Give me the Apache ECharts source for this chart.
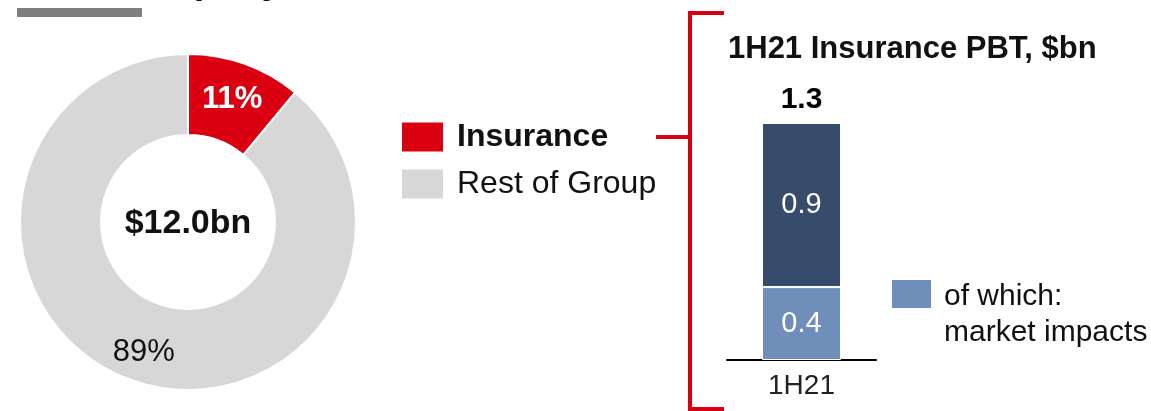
<!DOCTYPE html>
<html>
<head>
<meta charset="utf-8">
<script src="https://cdn.jsdelivr.net/npm/echarts@6/dist/echarts.min.js"></script>
<style>
  html, body { margin: 0; padding: 0; background: #fff; }
  #chart { width: 1151px; height: 411px; }
</style>
</head>
<body>
<div id="chart"></div>
<script>
// Share of Group profit before tax
const shareNames = ['Insurance', 'Rest of Group'];
const shareValues = [11, 89];          // %
const groupTotal = 12.0;               // $bn

// 1H21 Insurance PBT breakdown, $bn
const periods = ['1H21'];
const marketImpacts = [0.4];
const otherProfit = [0.9];
const marketName = 'of which: market impacts';
const otherName = 'Other';

const FONT = '"Liberation Sans", Arial, Helvetica, sans-serif';
const RED = '#db0011';
const LIGHT_GREY = '#d7d7d7';
const NAVY = '#374b6b';
const STEEL = '#6f8fba';

const totals = periods.map((_, i) => +(marketImpacts[i] + otherProfit[i]).toFixed(1));

const chart = echarts.init(document.getElementById('chart'), null, { renderer: 'canvas' });

chart.setOption({
  animation: false,
  backgroundColor: '#fff',
  textStyle: { fontFamily: FONT },
  legend: [
    {
      data: shareNames,
      orient: 'vertical',
      left: 402,
      top: 121,
      padding: 0,
      icon: 'rect',
      itemWidth: 41,
      itemHeight: 29,
      itemGap: 15,
      selectedMode: false,
      itemStyle: { borderWidth: 0 },
      formatter: n => (n === shareNames[0] ? `{b|${n}}` : `{r|${n}}`),
      textStyle: {
        fontFamily: FONT,
        fontSize: 32,
        color: '#111',
        padding: [0, 0, 0, 9],
        rich: {
          b: { fontFamily: FONT, fontSize: 32, fontWeight: 'bold', color: '#111', lineHeight: 29 },
          r: { fontFamily: FONT, fontSize: 32, color: '#111', lineHeight: 29 }
        }
      }
    },
    {
      data: [marketName],
      left: 892,
      top: 243,
      padding: 0,
      icon: 'rect',
      itemWidth: 39,
      itemHeight: 28,
      selectedMode: false,
      itemStyle: { borderWidth: 0 },
      formatter: () => '{s| }\n{t|of which:}\n{t|market impacts}',
      textStyle: {
        fontFamily: FONT,
        fontSize: 30,
        color: '#111',
        padding: [0, 0, 0, 8],
        rich: {
          s: { fontFamily: FONT, fontSize: 30, lineHeight: 42 },
          t: { fontFamily: FONT, fontSize: 30, lineHeight: 36, color: '#111' }
        }
      }
    }
  ],
  grid: { left: 727, top: 123, width: 149, height: 237 },
  xAxis: {
    type: 'category',
    data: periods,
    axisLine: { lineStyle: { color: '#000', width: 2 } },
    axisTick: { show: false },
    axisLabel: { fontFamily: FONT, fontSize: 28, color: '#222', margin: 12 }
  },
  yAxis: { type: 'value', min: 0, max: 1.3, show: false, splitLine: { show: false } },
  series: [
    {
      type: 'pie',
      center: [188, 222],
      radius: [87, 168],
      startAngle: 90,
      clockwise: true,
      avoidLabelOverlap: false,
      emphasis: { disabled: true },
      itemStyle: { borderColor: '#fff', borderWidth: 2 },
      labelLine: { show: false },
      label: { show: true, position: 'inside', formatter: '{c}%', fontFamily: FONT, fontSize: 31 },
      labelLayout: p => (p.dataIndex === 1 ? { dy: 8 } : {}),
      data: shareNames.map((n, i) => ({
        name: n,
        value: shareValues[i],
        itemStyle: { color: i === 0 ? RED : LIGHT_GREY },
        label: { color: i === 0 ? '#fff' : '#111', fontWeight: i === 0 ? 'bold' : 'normal' }
      }))
    },
    {
      type: 'bar',
      name: marketName,
      stack: 'pbt',
      data: marketImpacts,
      barWidth: 79,
      itemStyle: { color: STEEL, borderColor: '#fff', borderWidth: 1 },
      emphasis: { disabled: true },
      label: { show: true, position: 'inside', color: '#fff', fontFamily: FONT, fontSize: 29 }
    },
    {
      type: 'bar',
      name: otherName,
      stack: 'pbt',
      data: otherProfit,
      barWidth: 79,
      itemStyle: { color: NAVY, borderColor: '#fff', borderWidth: 1 },
      emphasis: { disabled: true },
      label: { show: true, position: 'inside', color: '#fff', fontFamily: FONT, fontSize: 29 }
    },
    {
      type: 'scatter',
      name: 'Total',
      data: totals,
      symbolSize: 0,
      silent: true,
      itemStyle: { opacity: 1 },
      label: {
        show: true,
        position: 'top',
        distance: 8,
        formatter: p => p.value.toFixed(1),
        color: '#000',
        opacity: 1,
        fontFamily: FONT,
        fontSize: 30,
        fontWeight: 'bold'
      }
    }
  ],
  graphic: [
    // heading, mostly above the top edge
    {
      type: 'text', left: 8, top: -36, silent: true,
      style: { text: '1H21 Company share, $bn', font: 'bold 38px ' + FONT, fill: '#111' }
    },
    { type: 'rect', shape: { x: 17, y: 8, width: 125, height: 9 }, style: { fill: '#7f7f7f' }, silent: true },
    // donut centre total
    {
      type: 'text', x: 188, y: 224, silent: true,
      style: {
        text: '$' + groupTotal.toFixed(1) + 'bn',
        font: 'bold 34px ' + FONT, fill: '#111', align: 'center', verticalAlign: 'middle'
      }
    },
    // bracket linking Insurance to its PBT breakdown
    {
      type: 'polyline', silent: true,
      shape: { points: [[724, 13], [690, 13], [690, 409], [724, 409]] },
      style: { stroke: RED, lineWidth: 4, fill: null }
    },
    {
      type: 'line', silent: true,
      shape: { x1: 656, y1: 137, x2: 690, y2: 137 },
      style: { stroke: RED, lineWidth: 4 }
    },
    {
      type: 'text', x: 728, y: 49, silent: true,
      style: {
        text: '1H21 Insurance PBT, $bn',
        font: 'bold 31px ' + FONT, fill: '#111', align: 'left', verticalAlign: 'middle'
      }
    }
  ]
});
</script>
</body>
</html>
